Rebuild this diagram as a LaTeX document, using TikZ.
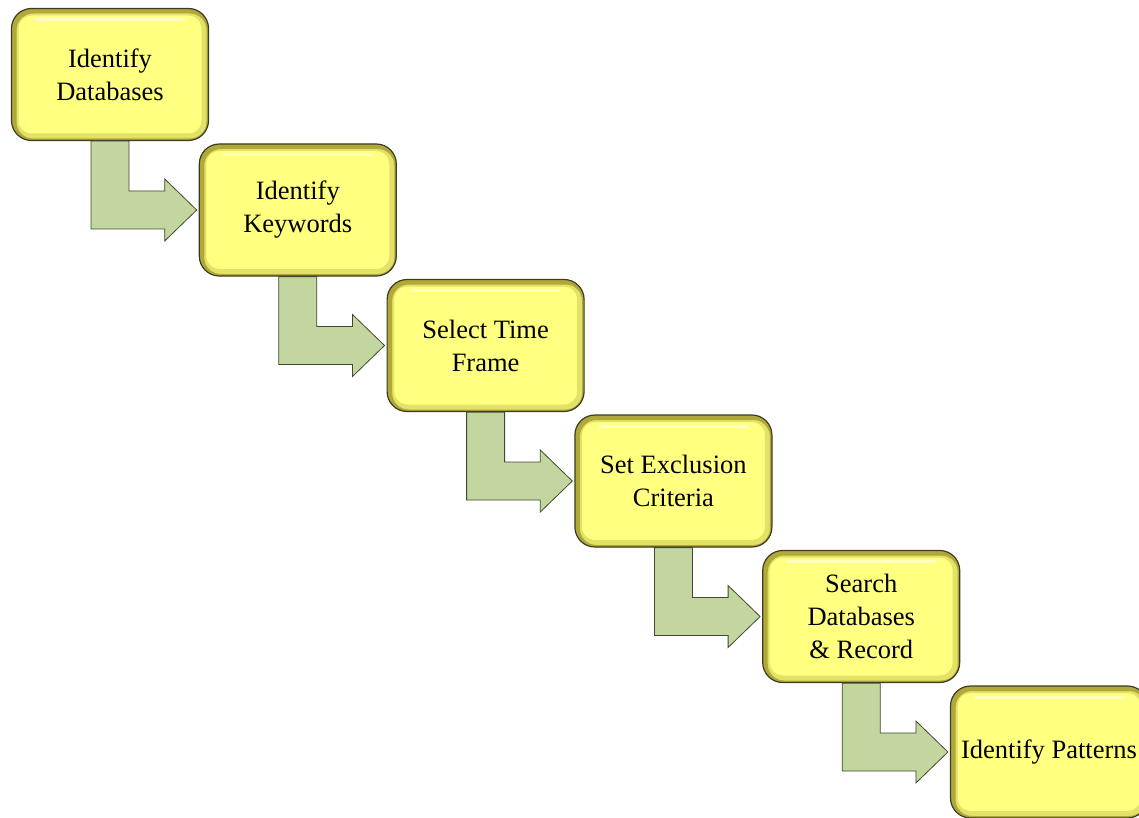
\documentclass[tikz,border=0pt]{standalone}
\usepackage{fontspec}
\setmainfont{Liberation Serif}
\usetikzlibrary{calc}
\definecolor{boxfill}{HTML}{FFFF80}
\definecolor{boxedge}{HTML}{B0A838}
\definecolor{boxline}{HTML}{3C3C24}
\definecolor{arrowfill}{HTML}{C4D6A0}
\definecolor{arrowline}{HTML}{3F4A2E}
\tikzset{
  stepbox/.style={rounded corners=20pt, minimum width=197pt, minimum height=132pt,
    align=center, fill=boxfill, draw=boxline, line width=1.2pt,
    path picture={
      \draw[line width=14pt, boxedge!35!boxfill, rounded corners=20pt]
        (path picture bounding box.south west) rectangle (path picture bounding box.north east);
      \draw[line width=7pt, boxedge, rounded corners=20pt]
        ([shift={(1.5pt,-1.5pt)}]path picture bounding box.south west) rectangle ([shift={(1.5pt,-1.5pt)}]path picture bounding box.north east);
      \draw[line width=3pt, white!50!boxfill]
        ([shift={(24pt,-11pt)}]path picture bounding box.north west) -- ([shift={(-24pt,-11pt)}]path picture bounding box.north east);
    }},
  bentarrow/.style={fill=arrowfill, draw=arrowline, line width=0.8pt, line join=miter}
}
\begin{document}
\begin{tikzpicture}[x=1pt, y=-1pt, font=\fontsize{26.5}{33}\selectfont, line join=round]
  \useasboundingbox (0,0) rectangle (1139,818);
  \def\dx{187.8} \def\dy{135.5} % buoc giua hai hop
  \def\bw{19} \def\hw{31} \def\hl{32} % nua be rong than, nua be rong dau, chieu dai dau
  \foreach \i/\t in {1/{Identify\\Databases}, 2/{Identify\\Keywords}, 3/{Select Time\\Frame},
      4/{Set Exclusion\\Criteria}, 5/{Search\\Databases\\\& Record}, 6/{Identify Patterns}}
    \node[stepbox] (b\i) at ({110+\dx*(\i-1)},{74.5+\dy*(\i-1)}) {\t};
  \foreach \i in {1,...,5}{
    \pgfmathtruncatemacro{\j}{\i+1}
    \path let \p1=(b\i.south), \p2=([xshift=-2pt]b\j.west) in
      [bentarrow] (\x1-\bw pt,\y1) -- (\x1+\bw pt,\y1) -- (\x1+\bw pt,\y2+\bw pt)
      -- (\x2-\hl pt,\y2+\bw pt) -- (\x2-\hl pt,\y2+\hw pt) -- (\x2,\y2)
      -- (\x2-\hl pt,\y2-\hw pt) -- (\x2-\hl pt,\y2-\bw pt) -- (\x1-\bw pt,\y2-\bw pt) -- cycle;
  }
\end{tikzpicture}
\end{document}
